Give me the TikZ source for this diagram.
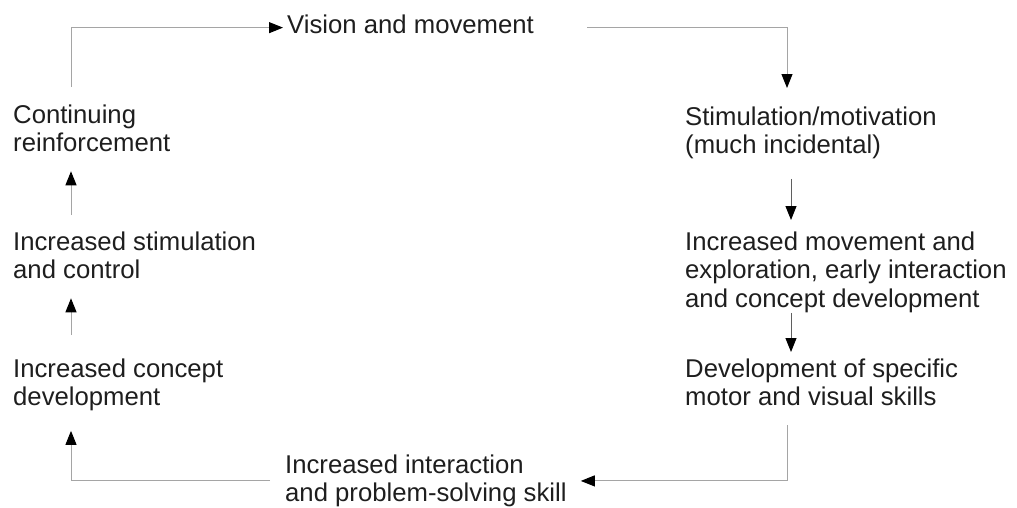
\documentclass[tikz,border=0pt]{standalone}
\usepackage{fontspec}
\setmainfont{Liberation Sans}
\usepackage{xcolor}
\usepackage{tikz}
\usetikzlibrary{arrows.meta, positioning}
\definecolor{TxtDark}{RGB}{30,30,30}
\definecolor{LoopGray}{RGB}{165,165,165}
\definecolor{StepGray}{RGB}{95,95,95}

\begin{document}
\begin{tikzpicture}[x=1pt, y=-1pt,
            stage/.style={anchor=north west, inner sep=0pt, align=left,
                          text=TxtDark, font=\fontsize{25.7}{28.5}\selectfont},
            loop/.style={LoopGray, line width=1pt,
                         -{Triangle[length=14pt, width=11pt, fill=black, color=black]}},
            stepline/.style={loop, StepGray}
          ]
          \useasboundingbox (0,0) rectangle (1017,507);

          % arrow columns
          \coordinate (lcol) at (71,0);
          \coordinate (rcol) at (787,0);
          \coordinate (mcol) at (791,0);

          % Top and right side
          \node[stage] (vision)  at (287, 14.5)  {Vision and movement};
          \node[stage] (stim)    at (685, 106.5) {Stimulation/motivation\\(much incidental)};
          \node[stage] (incmove) at (685, 231.5) {Increased movement and\\exploration, early interaction\\and concept development};
          \node[stage] (devel)   at (685, 358.5) {Development of specific\\motor and visual skills};

          % Bottom
          \node[stage] (incint)  at (285, 454.5) {Increased interaction\\and problem-solving skill};

          % Left side
          \node[stage] (inccon)  at (13, 358.5)  {Increased concept\\development};
          \node[stage] (incstim) at (13, 231.5)  {Increased stimulation\\and control};
          \node[stage] (cont)    at (13, 104.5)  {Continuing\\reinforcement};

          % the loop
          \draw[loop, shorten <=17.5pt, shorten >=4pt]
                (cont.north -| lcol) |- ([yshift=-3.5pt]vision.west);
          \draw[loop, shorten <=53pt, shorten >=18.5pt]
                ([yshift=-3.5pt]vision.east) -| (stim.north -| rcol);
          \draw[stepline, shorten <=19.5pt, shorten >=11.5pt]
                (stim.south -| mcol) -- (incmove.north -| mcol);
          \draw[stepline, shorten <=0pt, shorten >=6.5pt]
                (incmove.south -| mcol) -- (devel.north -| mcol);
          \draw[loop, shorten <=19pt, shorten >=14pt]
                (devel.south -| rcol) |- (incint.east);
          \draw[loop, shorten <=15pt, shorten >=19.5pt]
                (incint.west) -| (inccon.south -| lcol);
          \draw[loop, shorten <=23.5pt, shorten >=19pt]
                (inccon.north -| lcol) -- (incstim.south -| lcol);
          \draw[loop, shorten <=16.5pt, shorten >=19pt]
                (incstim.north -| lcol) -- (cont.south -| lcol);
        \end{tikzpicture}
\end{document}
